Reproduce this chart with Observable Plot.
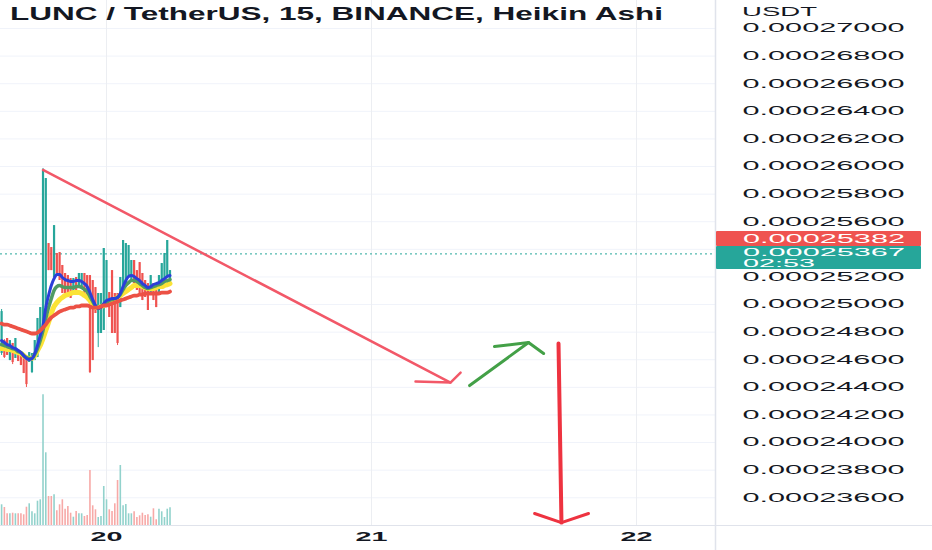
<!DOCTYPE html>
<html><head><meta charset="utf-8">
<script src="https://cdn.jsdelivr.net/npm/d3@7"></script>
<script src="https://cdn.jsdelivr.net/npm/@observablehq/plot@0.6"></script>
<style>
html,body{margin:0;padding:0;background:#fff;}
#chart{position:relative;width:932px;height:550px;overflow:hidden;background:#fff;}
#chart svg{position:absolute;left:0;top:0;}
</style></head><body><div id="chart"></div>
<script>
const title = "LUNC / TetherUS, 15, BINANCE, Heikin Ashi";
const currency = "USDT";
const firstBar = "2022-10-19T14:30Z";
const barMinutes = 15;

// Heikin Ashi candles (USDT)
const open = [0.00024645,0.00024739,0.00024754,0.00024594,0.00024718,0.00024609,0.00024674,0.00024652,0.00024631,0.00024609,
0.00024580,0.00024507,0.00024594,0.00024616,0.00024703,0.00024790,0.00024978,0.00025442,0.00025413,0.00025196,
0.00025370,0.00025377,0.00025283,0.00025225,0.00025210,0.00025188,0.00025080,0.00025196,0.00025138,0.00025116,
0.00025225,0.00025210,0.00025210,0.00025174,0.00025123,0.00024790,0.00024790,0.00024812,0.00025029,0.00025087,
0.00025246,0.00025080,0.00025080,0.00024978,0.00025080,0.00025123,0.00025196,0.00025174,0.00025319,0.00025246,
0.00025304,0.00025225,0.00025174,0.00025152,0.00025087,0.00025152,0.00025138,0.00025080,0.00025123,0.00025174,
0.00025196,0.00025152];
const close = [0.00024949,0.00024616,0.00024631,0.00024739,0.00024580,0.00024754,0.00024587,0.00024558,0.00024500,0.00024420,
0.00024652,0.00024645,0.00024739,0.00024899,0.00024978,0.00025971,0.00025913,0.00025246,0.00025246,0.00025572,
0.00025225,0.00025174,0.00025080,0.00025080,0.00025051,0.00025044,0.00025188,0.00025102,0.00025225,0.00025225,
0.00025051,0.00025029,0.00024507,0.00024594,0.00024935,0.00025080,0.00025080,0.00025406,0.00025319,0.00024906,
0.00024790,0.00024790,0.00024718,0.00025196,0.00025464,0.00025442,0.00025428,0.00025319,0.00025152,0.00025102,
0.00025080,0.00025029,0.00025051,0.00024957,0.00025210,0.00025029,0.00024978,0.00025210,0.00025297,0.00025370,
0.00025464,0.00025246];
const high = [0.00024964,0.00024746,0.00024754,0.00024739,0.00024718,0.00024754,0.00024674,0.00024652,0.00024631,0.00024609,
0.00024652,0.00024645,0.00024739,0.00024899,0.00024978,0.00025986,0.00025913,0.00025442,0.00025413,0.00025572,
0.00025370,0.00025377,0.00025283,0.00025225,0.00025210,0.00025188,0.00025188,0.00025196,0.00025225,0.00025225,
0.00025225,0.00025210,0.00025210,0.00025174,0.00025123,0.00025080,0.00025080,0.00025406,0.00025319,0.00025087,
0.00025246,0.00025080,0.00025080,0.00025196,0.00025464,0.00025442,0.00025428,0.00025319,0.00025319,0.00025246,
0.00025304,0.00025225,0.00025174,0.00025152,0.00025210,0.00025152,0.00025138,0.00025210,0.00025297,0.00025370,
0.00025464,0.00025246];
const low = [0.00024631,0.00024609,0.00024631,0.00024594,0.00024565,0.00024609,0.00024587,0.00024558,0.00024500,0.00024399,
0.00024580,0.00024500,0.00024594,0.00024616,0.00024703,0.00024790,0.00024978,0.00025246,0.00025246,0.00025196,
0.00025225,0.00025174,0.00025080,0.00025080,0.00025051,0.00025044,0.00025080,0.00025102,0.00025138,0.00025116,
0.00025051,0.00025029,0.00024500,0.00024594,0.00024935,0.00024688,0.00024790,0.00024812,0.00025029,0.00024906,
0.00024790,0.00024790,0.00024703,0.00024978,0.00025080,0.00025123,0.00025196,0.00025174,0.00025152,0.00025102,
0.00025080,0.00025029,0.00025051,0.00024957,0.00025087,0.00025029,0.00024978,0.00025080,0.00025123,0.00025174,
0.00025196,0.00025152];
// volume (relative units)
const volume = [207,180,117,117,123,117,117,117,107,183,217,137,117,243,257,1307,727,290,290,307,147,207,257,163,190,123,83,140,117,117,90,100,550,197,157,80,90,390,257,157,140,217,450,600,197,210,117,117,137,80,97,123,100,107,83,167,57,163,137,80,163,177];

// moving-average ribbon (USDT)
const redMA = [0.00024862,0.00024855,0.00024855,0.00024848,0.00024841,0.00024833,0.00024826,0.00024819,0.00024812,0.00024804,
0.00024797,0.00024790,0.00024790,0.00024797,0.00024812,0.00024833,0.00024855,0.00024884,0.00024906,0.00024920,
0.00024935,0.00024949,0.00024957,0.00024964,0.00024971,0.00024978,0.00024978,0.00024986,0.00024986,0.00024993,
0.00024993,0.00024993,0.00024986,0.00024978,0.00024978,0.00024978,0.00024986,0.00024993,0.00024993,0.00025000,
0.00025007,0.00025014,0.00025022,0.00025029,0.00025036,0.00025043,0.00025051,0.00025058,0.00025065,0.00025065,
0.00025072,0.00025072,0.00025080,0.00025080,0.00025080,0.00025080,0.00025080,0.00025080,0.00025087,0.00025087,
0.00025087,0.00025094];
const yellowMA = [0.00024681,0.00024681,0.00024674,0.00024674,0.00024667,0.00024659,0.00024652,0.00024645,0.00024630,0.00024616,
0.00024609,0.00024609,0.00024630,0.00024667,0.00024703,0.00024754,0.00024812,0.00024870,0.00024935,0.00024986,
0.00025014,0.00025036,0.00025051,0.00025065,0.00025072,0.00025080,0.00025087,0.00025087,0.00025087,0.00025080,
0.00025065,0.00025051,0.00025029,0.00025000,0.00024978,0.00024978,0.00024986,0.00024993,0.00025007,0.00025014,
0.00025022,0.00025036,0.00025051,0.00025065,0.00025080,0.00025094,0.00025109,0.00025123,0.00025138,0.00025138,
0.00025138,0.00025130,0.00025123,0.00025116,0.00025116,0.00025116,0.00025123,0.00025130,0.00025130,0.00025138,
0.00025145,0.00025152];
const greenMA = [0.00024710,0.00024703,0.00024696,0.00024688,0.00024681,0.00024674,0.00024659,0.00024652,0.00024630,0.00024616,
0.00024609,0.00024609,0.00024638,0.00024681,0.00024739,0.00024812,0.00024899,0.00024978,0.00025043,0.00025101,
0.00025130,0.00025138,0.00025130,0.00025123,0.00025123,0.00025123,0.00025123,0.00025130,0.00025130,0.00025123,
0.00025109,0.00025094,0.00025058,0.00025022,0.00024986,0.00024978,0.00024986,0.00025000,0.00025014,0.00025029,
0.00025036,0.00025043,0.00025051,0.00025072,0.00025109,0.00025138,0.00025159,0.00025174,0.00025174,0.00025167,
0.00025152,0.00025138,0.00025123,0.00025116,0.00025123,0.00025130,0.00025138,0.00025145,0.00025152,0.00025167,
0.00025174,0.00025181];
const blueMA = [0.00024739,0.00024725,0.00024710,0.00024703,0.00024688,0.00024681,0.00024667,0.00024652,0.00024630,0.00024609,
0.00024601,0.00024609,0.00024645,0.00024703,0.00024775,0.00024848,0.00024978,0.00025065,0.00025138,0.00025188,
0.00025217,0.00025217,0.00025196,0.00025181,0.00025174,0.00025167,0.00025167,0.00025174,0.00025174,0.00025167,
0.00025152,0.00025130,0.00025087,0.00025036,0.00024993,0.00024971,0.00024978,0.00025007,0.00025029,0.00025036,
0.00025043,0.00025043,0.00025051,0.00025080,0.00025130,0.00025174,0.00025203,0.00025210,0.00025203,0.00025188,
0.00025174,0.00025152,0.00025138,0.00025123,0.00025130,0.00025145,0.00025152,0.00025159,0.00025174,0.00025188,
0.00025203,0.00025210];

// hand-drawn annotations: [time, price]
const trendLine  = [["2022-10-19T18:15Z",0.00025975],["2022-10-21T07:09Z",0.00024435]];
const trendHead  = [["2022-10-21T03:59Z",0.00024442],["2022-10-21T07:09Z",0.00024435],["2022-10-21T08:04Z",0.00024507]];
const greenArrow = [["2022-10-21T08:53Z",0.00024413],["2022-10-21T14:13Z",0.00024725]];
const greenHead  = [["2022-10-21T11:08Z",0.00024696],["2022-10-21T14:13Z",0.00024725],["2022-10-21T15:35Z",0.00024645]];
const dropArrow  = [["2022-10-21T16:56Z",0.00024717],["2022-10-21T17:12Z",0.00023420]];
const dropHead   = [["2022-10-21T14:46Z",0.00023486],["2022-10-21T17:12Z",0.00023420],["2022-10-21T19:39Z",0.00023486]];

const lastPrice = 0.00025367;
const lastLabel = "0.00025367";
const countdown = "02:53";
const otherPrice = 0.00025382;
const otherLabel = "0.00025382";

// grid levels; the 0.000254 label sits hidden under the price badges
const priceGrid = [0.000236,0.000238,0.000240,0.000242,0.000244,0.000246,0.000248,0.000250,0.000252,0.000254,0.000256,0.000258,0.000260,0.000262,0.000264,0.000266,0.000268,0.000270];
const priceTicks = [0.000236,0.000238,0.000240,0.000242,0.000244,0.000246,0.000248,0.000250,0.000252,0.000256,0.000258,0.000260,0.000262,0.000264,0.000266,0.000268,0.000270];
const dayTicks = ["2022-10-20T00:00Z","2022-10-21T00:00Z","2022-10-22T00:00Z"].map(d => new Date(d));
const xDomain = [new Date("2022-10-19T14:24Z"), new Date("2022-10-22T07:09Z")];
const yDomain = [0.00023399, 0.00027203];
const volDomain = [0, 5250];

const UP = "#26a69a", DOWN = "#ef5350";
const UPV = "#92d2cc", DOWNV = "#f7a9a7";
const t0 = Date.parse(firstBar);
const bars = open.map((o, i) => ({
  t: new Date(t0 + i * barMinutes * 60000), o, c: close[i], h: high[i], l: low[i], v: volume[i],
  up: close[i] >= o, red: redMA[i], yellow: yellowMA[i], green: greenMA[i], blue: blueMA[i]
}));
const pts = a => a.map(([t, p]) => ({t: new Date(t), p}));

const common = {width: 932, height: 550, marginLeft: 0, marginRight: 217, marginTop: 0, marginBottom: 25,
  style: {fontFamily: "'Liberation Sans', Arial, sans-serif", background: "transparent", color: "#131722"}};

const main = Plot.plot({
  ...common,
  x: {type: "utc", domain: xDomain, axis: null},
  y: {domain: yDomain, axis: null},
  marks: [
    Plot.gridY(priceGrid, {stroke: "#f0f3fa", strokeOpacity: 1}),
    Plot.gridX(dayTicks, {stroke: "#eceef2", strokeOpacity: 1}),
    Plot.axisY(priceTicks, {anchor: "right", tickSize: 0, tickPadding: 27, tickFormat: d => d.toFixed(8), fontSize: 12, fill: "#131722", label: null}),
    Plot.axisX(dayTicks, {anchor: "bottom", tickSize: 0, tickPadding: 7, tickFormat: d3.utcFormat("%-d"), fontSize: 12, fontWeight: "bold", fill: "#131722", label: null}),
    Plot.ruleY([lastPrice], {stroke: UP, strokeDasharray: "2,3", strokeWidth: 1}),
    Plot.ruleX(bars, {x: "t", y1: "l", y2: "h", stroke: d => d.up ? UP : DOWN, strokeWidth: 1}),
    Plot.ruleX(bars, {x: "t", y1: "o", y2: "c", stroke: d => d.up ? UP : DOWN, strokeWidth: 2.2}),
    Plot.line(bars, {x: "t", y: "yellow", stroke: "#fbe337", strokeWidth: 5, curve: "monotone-x"}),
    Plot.line(bars, {x: "t", y: "green", stroke: "#4f9b63", strokeWidth: 3.5, curve: "monotone-x"}),
    Plot.line(bars, {x: "t", y: "blue", stroke: "#2b3fd8", strokeWidth: 3, curve: "monotone-x"}),
    Plot.line(bars, {x: "t", y: "red", stroke: "#ec5145", strokeWidth: 3.8, curve: "monotone-x"}),
    Plot.line(pts(trendLine), {x: "t", y: "p", stroke: "#f25868", strokeWidth: 2.5}),
    Plot.line(pts(trendHead), {x: "t", y: "p", stroke: "#f25868", strokeWidth: 2.5}),
    Plot.line(pts(greenArrow), {x: "t", y: "p", stroke: "#43a047", strokeWidth: 3}),
    Plot.line(pts(greenHead), {x: "t", y: "p", stroke: "#43a047", strokeWidth: 3}),
    Plot.line(pts(dropArrow), {x: "t", y: "p", stroke: "#ee3340", strokeWidth: 4}),
    Plot.line(pts(dropHead), {x: "t", y: "p", stroke: "#ee3340", strokeWidth: 3})
  ]
});

const vol = Plot.plot({
  ...common,
  x: {type: "utc", domain: xDomain, axis: null},
  y: {domain: volDomain, axis: null},
  marks: [
    Plot.ruleX(bars, {x: "t", y1: 0, y2: "v", stroke: d => d.up ? UPV : DOWNV, strokeWidth: 1.6})
  ]
});

const box = document.getElementById("chart");
box.appendChild(main);
box.appendChild(vol);

const svg = d3.select(main);
svg.selectAll('g[aria-label="y-axis tick label"] text')
  .attr("textLength", 162).attr("lengthAdjust", "spacingAndGlyphs");
svg.selectAll('g[aria-label="x-axis tick label"] text')
  .attr("textLength", 32).attr("lengthAdjust", "spacingAndGlyphs").attr("font-weight", "bold");

const W = 932, H = 550, right = W - 217, bottom = H - 25;
// pane separators
svg.append("line").attr("x1", right + 0.5).attr("x2", right + 0.5).attr("y1", 0).attr("y2", H).attr("stroke", "#e0e3eb").attr("stroke-width", 1.5);
svg.append("line").attr("x1", 0).attr("x2", W).attr("y1", bottom + 0.5).attr("y2", bottom + 0.5).attr("stroke", "#e0e3eb");

const note = g => g.attr("text-anchor", "start").attr("lengthAdjust", "spacingAndGlyphs");
// title and currency
note(svg.append("text").text(title).attr("x", 10).attr("y", 20).attr("font-size", 18).attr("font-weight", "bold")
  .attr("fill", "#131722").attr("textLength", 653));
note(svg.append("text").text(currency).attr("x", right + 27).attr("y", 16).attr("font-size", 12)
  .attr("fill", "#131722").attr("textLength", 75));

// price badges
const ys = main.scale("y");
const tealTop = ys.apply(lastPrice) - 7.5;
svg.append("rect").attr("x", right + 1).attr("y", tealTop - 15).attr("width", 205).attr("height", 15).attr("fill", "#ef5350").attr("rx", 1);
svg.append("rect").attr("x", right + 1).attr("y", tealTop).attr("width", 205).attr("height", 23).attr("fill", UP).attr("rx", 1);
note(svg.append("text").text(otherLabel).attr("x", right + 28).attr("y", tealTop - 3).attr("font-size", 12).attr("fill", "#fff")
  .attr("textLength", 162));
note(svg.append("text").text(lastLabel).attr("x", right + 28).attr("y", tealTop + 10.5).attr("font-size", 11.5).attr("fill", "#fff")
  .attr("textLength", 162));
note(svg.append("text").text(countdown).attr("x", right + 28).attr("y", tealTop + 21.5).attr("font-size", 11).attr("fill", "#fff")
  .attr("textLength", 72));
</script>
</body></html>
